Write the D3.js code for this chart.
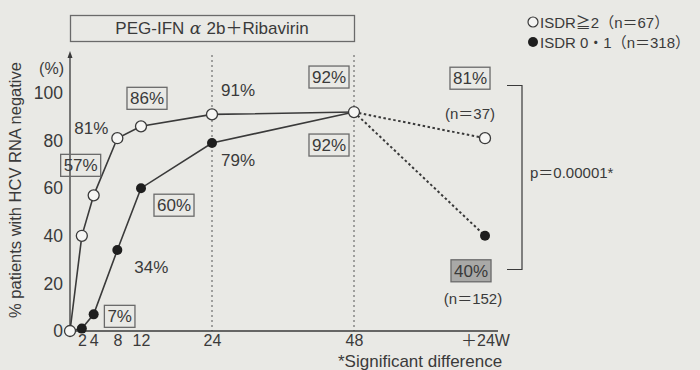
<!DOCTYPE html>
<html lang="en">
<head>
<meta charset="UTF-8"/>
<title>ISDR and HCV RNA negativity</title>
<style>
    body { margin: 0; background: #e9e9e5; }
    svg text { font-family: "Liberation Sans", Arial, "Noto Sans CJK JP", sans-serif; fill: #3a3a3a; }
</style>
</head>
<body>
<svg id="chart" width="700" height="370"></svg>
<script src="https://d3js.org/d3.v7.min.js"></script>
<script type="text/javascript">

    // weeks of treatment, 72 = end of treatment + 24W follow-up
    var weeks = [0, 2, 4, 8, 12, 24, 48];
    var isdr2 = [0, 40, 57, 81, 86, 91, 92];      // ISDR >= 2 (open)
    var isdr01 = [0, 1, 7, 34, 60, 79, 92];       // ISDR 0-1 (filled)
    var followWeek = 72;
    var isdr2Follow = 81;
    var isdr01Follow = 40;
    var xTicks = [2, 4, 8, 12, 24, 48, 72];
    var xTickLabels = ["2", "4", "8", "12", "24", "48", "＋24W"];
    var yTicks = [0, 20, 40, 60, 80, 100];

    var svg = d3.select("#chart");
    var ink = "#3a3a3a";

    // treatment weeks are linear, follow-up squeezed in after 48
    var x = d3.scaleLinear().domain([0, 48, 72]).range([70, 354, 485]);
    var y = d3.scaleLinear().domain([0, 100]).range([331, 93]);

    // title box
    svg.append("rect")
        .attr("x", 70.5).attr("y", 15.5).attr("width", 284).attr("height", 26)
        .attr("fill", "none").attr("stroke", "#6a6a6a").attr("stroke-width", 1.3);
    var title = svg.append("text")
        .attr("x", 212).attr("y", 34).attr("text-anchor", "middle")
        .style("font-size", "17px");
    title.append("tspan").text("PEG-IFN");
    title.append("tspan").style("font-family", "DejaVu Serif").style("font-style", "italic").text(" α ");
    title.append("tspan").text("2b＋Ribavirin");

    // legend
    var legend = svg.append("g").attr("transform", "translate(527,0)");
    legend.append("circle").attr("cx", 6).attr("cy", 22).attr("r", 5)
        .attr("fill", "#f4f4f2").attr("stroke", ink).attr("stroke-width", 1.2);
    legend.append("text").attr("x", 13).attr("y", 28).style("font-size", "15px").text("ISDR≧2（n＝67）");
    legend.append("circle").attr("cx", 6).attr("cy", 42).attr("r", 5).attr("fill", "#1e1e1e");
    legend.append("text").attr("x", 13).attr("y", 48).style("font-size", "15px").text("ISDR 0・1（n＝318）");

    // dotted guides at 24 and 48 weeks
    [24, 48].forEach(function (w) {
        svg.append("line")
            .attr("x1", x(w)).attr("x2", x(w)).attr("y1", 55).attr("y2", y(0))
            .attr("stroke", "#555").attr("stroke-width", 1).attr("stroke-dasharray", "2,3");
    });

    // y axis with arrow
    var yAxis = svg.append("g").attr("transform", "translate(" + x(0) + ",0)")
        .call(d3.axisLeft(y).tickValues(yTicks).tickSize(0).tickPadding(7));
    yAxis.select(".domain").remove();
    yAxis.selectAll("text").style("font-size", "17.5px").style("fill", ink);
    svg.append("line")
        .attr("x1", x(0)).attr("x2", x(0)).attr("y1", 56).attr("y2", y(0))
        .attr("stroke", ink).attr("stroke-width", 1.3);
    svg.append("path")
        .attr("d", "M" + x(0) + ",51L" + (x(0) - 2.5) + ",58L" + (x(0) + 2.5) + ",58Z")
        .attr("fill", ink);
    svg.append("text").attr("x", 64).attr("y", 74).attr("text-anchor", "end")
        .style("font-size", "16px").text("(%)");
    svg.append("text")
        .attr("transform", "translate(21,190) rotate(-90)")
        .attr("text-anchor", "middle").style("font-size", "16.5px")
        .text("% patients with HCV RNA negative");

    // x axis
    var xAxis = svg.append("g").attr("transform", "translate(0," + y(0) + ")")
        .call(d3.axisBottom(x).tickValues(xTicks).tickSize(0).tickPadding(4)
            .tickFormat(function (d, i) { return xTickLabels[i]; }));
    xAxis.select(".domain").remove();
    xAxis.selectAll("text").style("font-size", "16px").style("fill", ink);
    svg.append("line")
        .attr("x1", x(0)).attr("x2", x(followWeek) + 13).attr("y1", y(0)).attr("y2", y(0))
        .attr("stroke", ink).attr("stroke-width", 1.5);
    svg.append("text").attr("x", 338).attr("y", 367).style("font-size", "17px")
        .text("*Significant difference");

    // lines
    var line = d3.line().x(function (d) { return x(d[0]); }).y(function (d) { return y(d[1]); });
    var openPts = weeks.map(function (w, i) { return [w, isdr2[i]]; });
    var fillPts = weeks.map(function (w, i) { return [w, isdr01[i]]; });

    svg.append("path").datum([[48, isdr2[6]], [followWeek, isdr2Follow]]).attr("d", line)
        .attr("fill", "none").attr("stroke", ink).attr("stroke-width", 2).attr("stroke-dasharray", "2.5,2.5");
    svg.append("path").datum([[48, isdr01[6]], [followWeek, isdr01Follow]]).attr("d", line)
        .attr("fill", "none").attr("stroke", ink).attr("stroke-width", 2).attr("stroke-dasharray", "2.5,2.5");
    svg.append("path").datum(fillPts).attr("d", line)
        .attr("fill", "none").attr("stroke", ink).attr("stroke-width", 1.6);
    svg.append("path").datum(openPts).attr("d", line)
        .attr("fill", "none").attr("stroke", ink).attr("stroke-width", 1.6);

    // markers
    svg.selectAll(".filled").data(fillPts.slice(1).concat([[followWeek, isdr01Follow]]))
        .enter().append("circle").attr("class", "filled")
        .attr("cx", function (d) { return x(d[0]); }).attr("cy", function (d) { return y(d[1]); })
        .attr("r", 5).attr("fill", "#1e1e1e");
    svg.selectAll(".open").data(openPts.concat([[followWeek, isdr2Follow]]))
        .enter().append("circle").attr("class", "open")
        .attr("cx", function (d) { return x(d[0]); }).attr("cy", function (d) { return y(d[1]); })
        .attr("r", 5.5).attr("fill", "#f6f6f4").attr("stroke", ink).attr("stroke-width", 1.3);

    // value labels: [text, week, value, dx, dy, boxed]
    var labels = [
        ["57%", 4, isdr2[2], -13, -30, true],
        ["81%", 8, isdr2[3], -26, -10, false],
        ["86%", 12, isdr2[4], 6, -28, true],
        ["91%", 24, isdr2[5], 26, -24, false],
        ["92%", 48, isdr2[6], -25, -35, true],
        ["92%", 48, isdr01[6], -25, 33, true],
        ["79%", 24, isdr01[5], 26, 17, false],
        ["60%", 12, isdr01[4], 33, 17, true],
        ["34%", 8, isdr01[3], 34, 17, false],
        ["7%", 4, isdr01[2], 26, 2, true],
        [isdr2Follow + "%", followWeek, isdr2Follow, -15, -60, true],
        [isdr01Follow + "%", followWeek, isdr01Follow, -14, 35, "shade"]
    ];
    labels.forEach(function (l) {
        var cx = x(l[1]) + l[3], cy = y(l[2]) + l[4];
        var g = svg.append("g");
        var t = g.append("text").attr("x", cx).attr("y", cy + 6)
            .attr("text-anchor", "middle").style("font-size", "17px").text(l[0]);
        if (l[5]) {
            var b = t.node().getBBox();
            g.insert("rect", "text")
                .attr("x", b.x - 3).attr("y", cy - 11).attr("width", b.width + 6).attr("height", 22)
                .attr("fill", l[5] === "shade" ? "#a9a9a7" : "none")
                .attr("stroke", "#6a6a6a").attr("stroke-width", 1.3);
        }
    });
    svg.append("text").attr("x", 470).attr("y", 119).attr("text-anchor", "middle")
        .style("font-size", "15px").text("(n＝37)");
    svg.append("text").attr("x", 473).attr("y", 304).attr("text-anchor", "middle")
        .style("font-size", "15px").text("(n＝152)");

    // significance bracket
    svg.append("path")
        .attr("d", "M507,85.5H522V269.5H507")
        .attr("fill", "none").attr("stroke", ink).attr("stroke-width", 1.2);
    svg.append("text").attr("x", 530).attr("y", 178).style("font-size", "15px").text("p＝0.00001*");

</script>
</body>
</html>
